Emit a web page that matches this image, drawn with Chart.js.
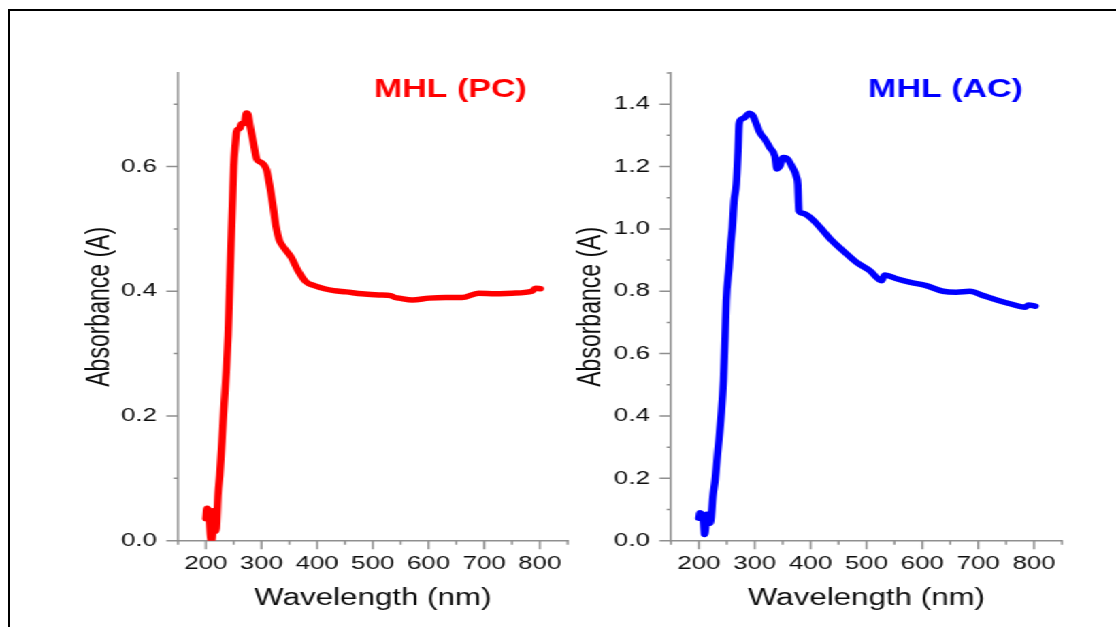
<!DOCTYPE html>
<html>
<head>
<meta charset="utf-8">
<title>UV-Vis absorbance of MHL</title>
<script src="https://cdn.jsdelivr.net/npm/chart.js@4.4.1/dist/chart.umd.min.js"></script>
<style>
  html, body { margin: 0; padding: 0; background: #fff; overflow: hidden; }
  body { width: 1116px; height: 627px; position: relative; }
  #frame { position: absolute; left: 8px; top: 9px; width: 1200px; height: 700px;
           border-top: 2px solid #000; border-left: 2px solid #000; }
  /* both panels are laid out narrow and stretched sideways */
  #stage { position: absolute; left: 0; top: 0; width: 820px; height: 627px;
           transform: scaleX(1.361); transform-origin: 0 0; }
  .panel { position: absolute; top: 0; height: 627px; }
  #panelPC { left: 0; width: 425px; }
  #panelAC { left: 415px; width: 405px; }
</style>
</head>
<body>
<div id="frame"></div>
<div id="stage">
  <div class="panel" id="panelPC"><canvas id="chartPC"></canvas></div>
  <div class="panel" id="panelAC"><canvas id="chartAC"></canvas></div>
</div>
<script>
// axis ticks
const xTicks = [200, 300, 400, 500, 600, 700, 800];
const xMinorTicks = [150, 250, 350, 450, 550, 650, 750, 850];
const pcYTicks = [0, 0.2, 0.4, 0.6];
const pcYMinorTicks = [0.1, 0.3, 0.5, 0.7];
const acYTicks = [0, 0.2, 0.4, 0.6, 0.8, 1.0, 1.2, 1.4];
const acYMinorTicks = [0.1, 0.3, 0.5, 0.7, 0.9, 1.1, 1.3, 1.5];

// MHL (PC) spectrum
const pcWavelength = [200, 202, 205, 208, 210, 212, 213, 215, 217, 219, 222, 225, 229, 233, 237, 240,
  242, 244, 246, 248, 250, 253, 255, 258, 261, 264, 269, 273, 276, 279, 285, 291, 296, 302, 309,
  314, 320, 326, 332, 341, 353, 365, 380, 395, 413, 430, 452, 480, 511, 532, 540, 547, 571, 601,
  631, 660, 690, 720, 750, 786, 792, 801];
const pcAbsorbance = [0.035, 0.052, 0.047, 0.010, 0.000, 0.010, 0.048, 0.046, 0.015, 0.020, 0.076,
  0.105, 0.160, 0.220, 0.275, 0.330, 0.386, 0.440, 0.493, 0.546, 0.600, 0.637, 0.656, 0.660, 0.661,
  0.669, 0.669, 0.686, 0.683, 0.667, 0.640, 0.613, 0.608, 0.605, 0.595, 0.573, 0.541, 0.504, 0.482,
  0.469, 0.455, 0.434, 0.415, 0.409, 0.404, 0.401, 0.399, 0.396, 0.394, 0.393, 0.390, 0.389, 0.386,
  0.389, 0.390, 0.390, 0.397, 0.396, 0.397, 0.400, 0.405, 0.404];

// MHL (AC) spectrum
const acWavelength = [200, 202, 205, 207, 209, 210, 212, 214, 217, 220, 222, 225, 229, 234, 240, 244,
  247, 249, 254, 257, 260, 263, 267, 270, 272, 276, 282, 286, 290, 294, 297, 303, 309, 318, 327,
  336, 340, 342, 345, 351, 357, 366, 375, 377, 379, 386, 399, 417, 435, 458, 482, 506, 527, 529,
  533, 554, 577, 607, 637, 661, 685, 709, 733, 757, 784, 790, 802];
const acAbsorbance = [0.072, 0.090, 0.085, 0.082, 0.040, 0.020, 0.040, 0.085, 0.082, 0.056, 0.075,
  0.140, 0.194, 0.290, 0.405, 0.514, 0.655, 0.770, 0.877, 0.952, 1.005, 1.090, 1.144, 1.250, 1.336,
  1.352, 1.357, 1.365, 1.371, 1.368, 1.362, 1.336, 1.309, 1.288, 1.261, 1.234, 1.192, 1.195, 1.202,
  1.229, 1.227, 1.202, 1.165, 1.144, 1.058, 1.050, 1.037, 1.005, 0.968, 0.930, 0.893, 0.866, 0.834,
  0.840, 0.852, 0.840, 0.829, 0.818, 0.800, 0.797, 0.800, 0.786, 0.772, 0.760, 0.749, 0.756, 0.752];

const FONT = "'Liberation Sans', Arial, sans-serif";
const AXIS_GREY = '#8f8f8f';
const TEXT = '#0d0d0d';

// outward tick marks (major + minor) on both axes
const tickMarks = {
  id: 'tickMarks',
  beforeDatasetsDraw(chart, args, opts) {
    const {ctx, scales: {x, y}, chartArea} = chart;
    ctx.save();
    ctx.strokeStyle = AXIS_GREY;
    ctx.lineWidth = 1.5;
    ctx.beginPath();
    const xMark = (vals, len) => vals.forEach(v => {
      const px = x.getPixelForValue(v);
      ctx.moveTo(px, chartArea.bottom);
      ctx.lineTo(px, chartArea.bottom + len);
    });
    const yMark = (vals, len) => vals.forEach(v => {
      const py = y.getPixelForValue(v);
      ctx.moveTo(chartArea.left, py);
      ctx.lineTo(chartArea.left - len, py);
    });
    xMark(xTicks, 8.5);
    xMark(xMinorTicks, 4);
    yMark(opts.major, 8.5);
    yMark(opts.minor, 3.2);
    ctx.stroke();
    ctx.restore();
  }
};

// sample name in the upper right of each panel
const panelLabel = {
  id: 'panelLabel',
  afterDraw(chart, args, opts) {
    const {ctx, chartArea} = chart;
    ctx.save();
    ctx.font = 'bold 25px ' + FONT;
    ctx.fillStyle = opts.color;
    ctx.textAlign = 'right';
    ctx.textBaseline = 'alphabetic';
    ctx.fillText(opts.text, chartArea.right - opts.inset, chartArea.top + 23.5);
    ctx.restore();
  }
};

function makeChart(id, cfg) {
  const ctx = document.getElementById(id).getContext('2d');
  return new Chart(ctx, {
    type: 'line',
    data: {
      datasets: [{
        data: cfg.wavelength.map((w, i) => ({x: w, y: cfg.absorbance[i]})),
        borderColor: cfg.color,
        borderWidth: 5.5,
        pointRadius: 0,
        cubicInterpolationMode: 'monotone',
        borderJoinStyle: 'round',
        borderCapStyle: 'round',
        fill: false
      }]
    },
    options: {
      responsive: true,
      maintainAspectRatio: false,
      animation: false,
      events: [],
      layout: { padding: {left: 0, top: 73, right: cfg.padRight, bottom: 0} },
      plugins: {
        legend: { display: false },
        tooltip: { enabled: false },
        tickMarks: { major: cfg.yTicks, minor: cfg.yMinor },
        panelLabel: { text: cfg.label, color: cfg.color, inset: cfg.labelInset }
      },
      scales: {
        x: {
          type: 'linear',
          min: 150,
          max: 850,
          afterBuildTicks: s => { s.ticks = xTicks.map(v => ({value: v})); },
          afterFit: s => { s.height = 86.3; },
          grid: { drawOnChartArea: false, drawTicks: false },
          border: { display: true, color: AXIS_GREY, width: 1.5 },
          ticks: {
            padding: 12, color: TEXT, autoSkip: false, maxRotation: 0,
            font: { family: FONT, size: 19 },
            callback: v => String(v)
          },
          title: {
            display: true, text: 'Wavelength (nm)', color: TEXT,
            font: { family: FONT, size: 23 },
            padding: { top: 0, bottom: 14.6 }
          }
        },
        y: {
          min: 0,
          max: cfg.yMax,
          afterBuildTicks: s => { s.ticks = cfg.yTicks.map(v => ({value: v})); },
          afterFit: s => { s.width = cfg.yWidth; },
          grid: { drawOnChartArea: false, drawTicks: false },
          border: { display: true, color: AXIS_GREY, width: 1.5 },
          ticks: {
            padding: 15.5, color: TEXT,
            font: { family: FONT, size: 19 },
            callback: v => v.toFixed(1)
          },
          title: {
            display: true, text: 'Absorbance (A)', color: TEXT,
            font: { family: FONT, size: 23 },
            padding: { top: cfg.titlePad, bottom: 0 }
          }
        }
      }
    },
    plugins: [tickMarks, panelLabel]
  });
}

makeChart('chartPC', {
  wavelength: pcWavelength, absorbance: pcAbsorbance, color: '#ff0000',
  yMax: 0.75, yTicks: pcYTicks, yMinor: pcYMinorTicks,
  label: 'MHL (PC)', labelInset: 30,
  yWidth: 130.8, padRight: 6.9, titlePad: 59.8
});

makeChart('chartAC', {
  wavelength: acWavelength, absorbance: acAbsorbance, color: '#0000ff',
  yMax: 1.5, yTicks: acYTicks, yMinor: acYMinorTicks,
  label: 'MHL (AC)', labelInset: 28.6,
  yWidth: 78.0, padRight: 39.7, titlePad: 6.0
});
</script>
</body>
</html>
